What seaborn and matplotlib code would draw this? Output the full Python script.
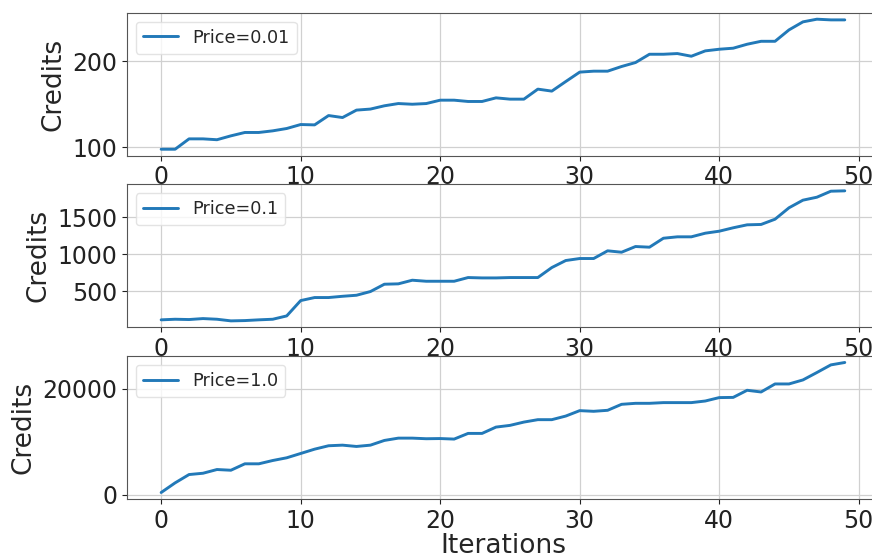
import matplotlib
matplotlib.use("Agg")
import matplotlib.pyplot as plt
import seaborn as sns
import numpy as np
import pandas as pd

iterations = list(range(50))

credits_p001 = [98, 98, 110, 110, 109, 113.5, 117.4, 117.4, 119.3, 122,
                126.6, 126.2, 137, 134.7, 143.3, 144.5, 148.3, 150.9, 150.1, 150.9,
                154.8, 154.8, 153.3, 153.3, 157.5, 156, 156, 167.6, 165.3, 176.4,
                187.3, 188.4, 188.4, 193.8, 198.4, 208, 208, 208.8, 205.7, 211.9,
                213.8, 215, 219.6, 223, 223, 236.2, 245.5, 248.6, 247.8, 247.8]

credits_p01 = [114, 122, 118, 131, 122, 100, 104, 114, 122, 167,
               374, 415, 415, 432, 446, 496, 595, 600, 649, 635,
               635, 635, 685, 680, 680, 685, 685, 685, 820, 915,
               942, 942, 1046, 1027, 1104, 1095, 1216, 1235, 1235, 1284,
               1311, 1357, 1397, 1402, 1473, 1627, 1730, 1770, 1851, 1856]

credits_p1 = [450, 2264, 3830, 4075, 4774, 4641, 5849, 5849, 6472, 6981,
              7792, 8604, 9245, 9358, 9113, 9358, 10245, 10679, 10679, 10566,
              10600, 10500, 11566, 11566, 12755, 13075, 13698, 14151, 14151, 14830,
              15849, 15723, 15912, 17038, 17226, 17226, 17358, 17358, 17358, 17660,
              18302, 18340, 19679, 19358, 20868, 20868, 21623, 23019, 24453, 24906]

labels = ["Price=0.01", "Price=0.1", "Price=1.0"]
series = [credits_p001, credits_p01, credits_p1]
yticks = [[100, 200], [500, 1000, 1500], [0, 20000]]
xticks = [0, 10, 20, 30, 40, 50]

sns.set_style("whitegrid", {
    "axes.edgecolor": "#555555",
    "grid.color": "#d0d0d0",
    "axes.linewidth": 1.0,
    "xtick.bottom": True,
    "ytick.left": True,
})
plt.rcParams['font.family'] = ['DejaVu Sans']
plt.rcParams['xtick.major.size'] = 3.5
plt.rcParams['ytick.major.size'] = 3.5

fig, axes = plt.subplots(3, 1, figsize=(8.72, 5.59), dpi=100)
fig.subplots_adjust(left=0.1456, right=1.008, top=0.9773, bottom=0.1073, hspace=0.2)

for ax, lab, vals, yt in zip(axes, labels, series, yticks):
    df = pd.DataFrame({"Iterations": iterations, "Credits": vals})
    sns.lineplot(data=df, x="Iterations", y="Credits", ax=ax, label=lab,
                 color="#2279b8", linewidth=2.1)
    ax.set_yticks(yt)
    ax.set_xticks(xticks)
    ax.tick_params(axis="both", labelsize=17, colors="#222222")
    ax.set_ylabel("Credits", fontsize=19)
    ax.set_xlabel("")
    ax.grid(True, linewidth=0.9)
    leg = ax.legend(loc="upper left", fontsize=12.7, frameon=True)
    leg.get_frame().set_edgecolor("#dddddd")
    for sp in ax.spines.values():
        sp.set_color("#555555")

axes[2].set_xlabel("Iterations", fontsize=19, labelpad=0)

fig.savefig("out.png", dpi=100)
